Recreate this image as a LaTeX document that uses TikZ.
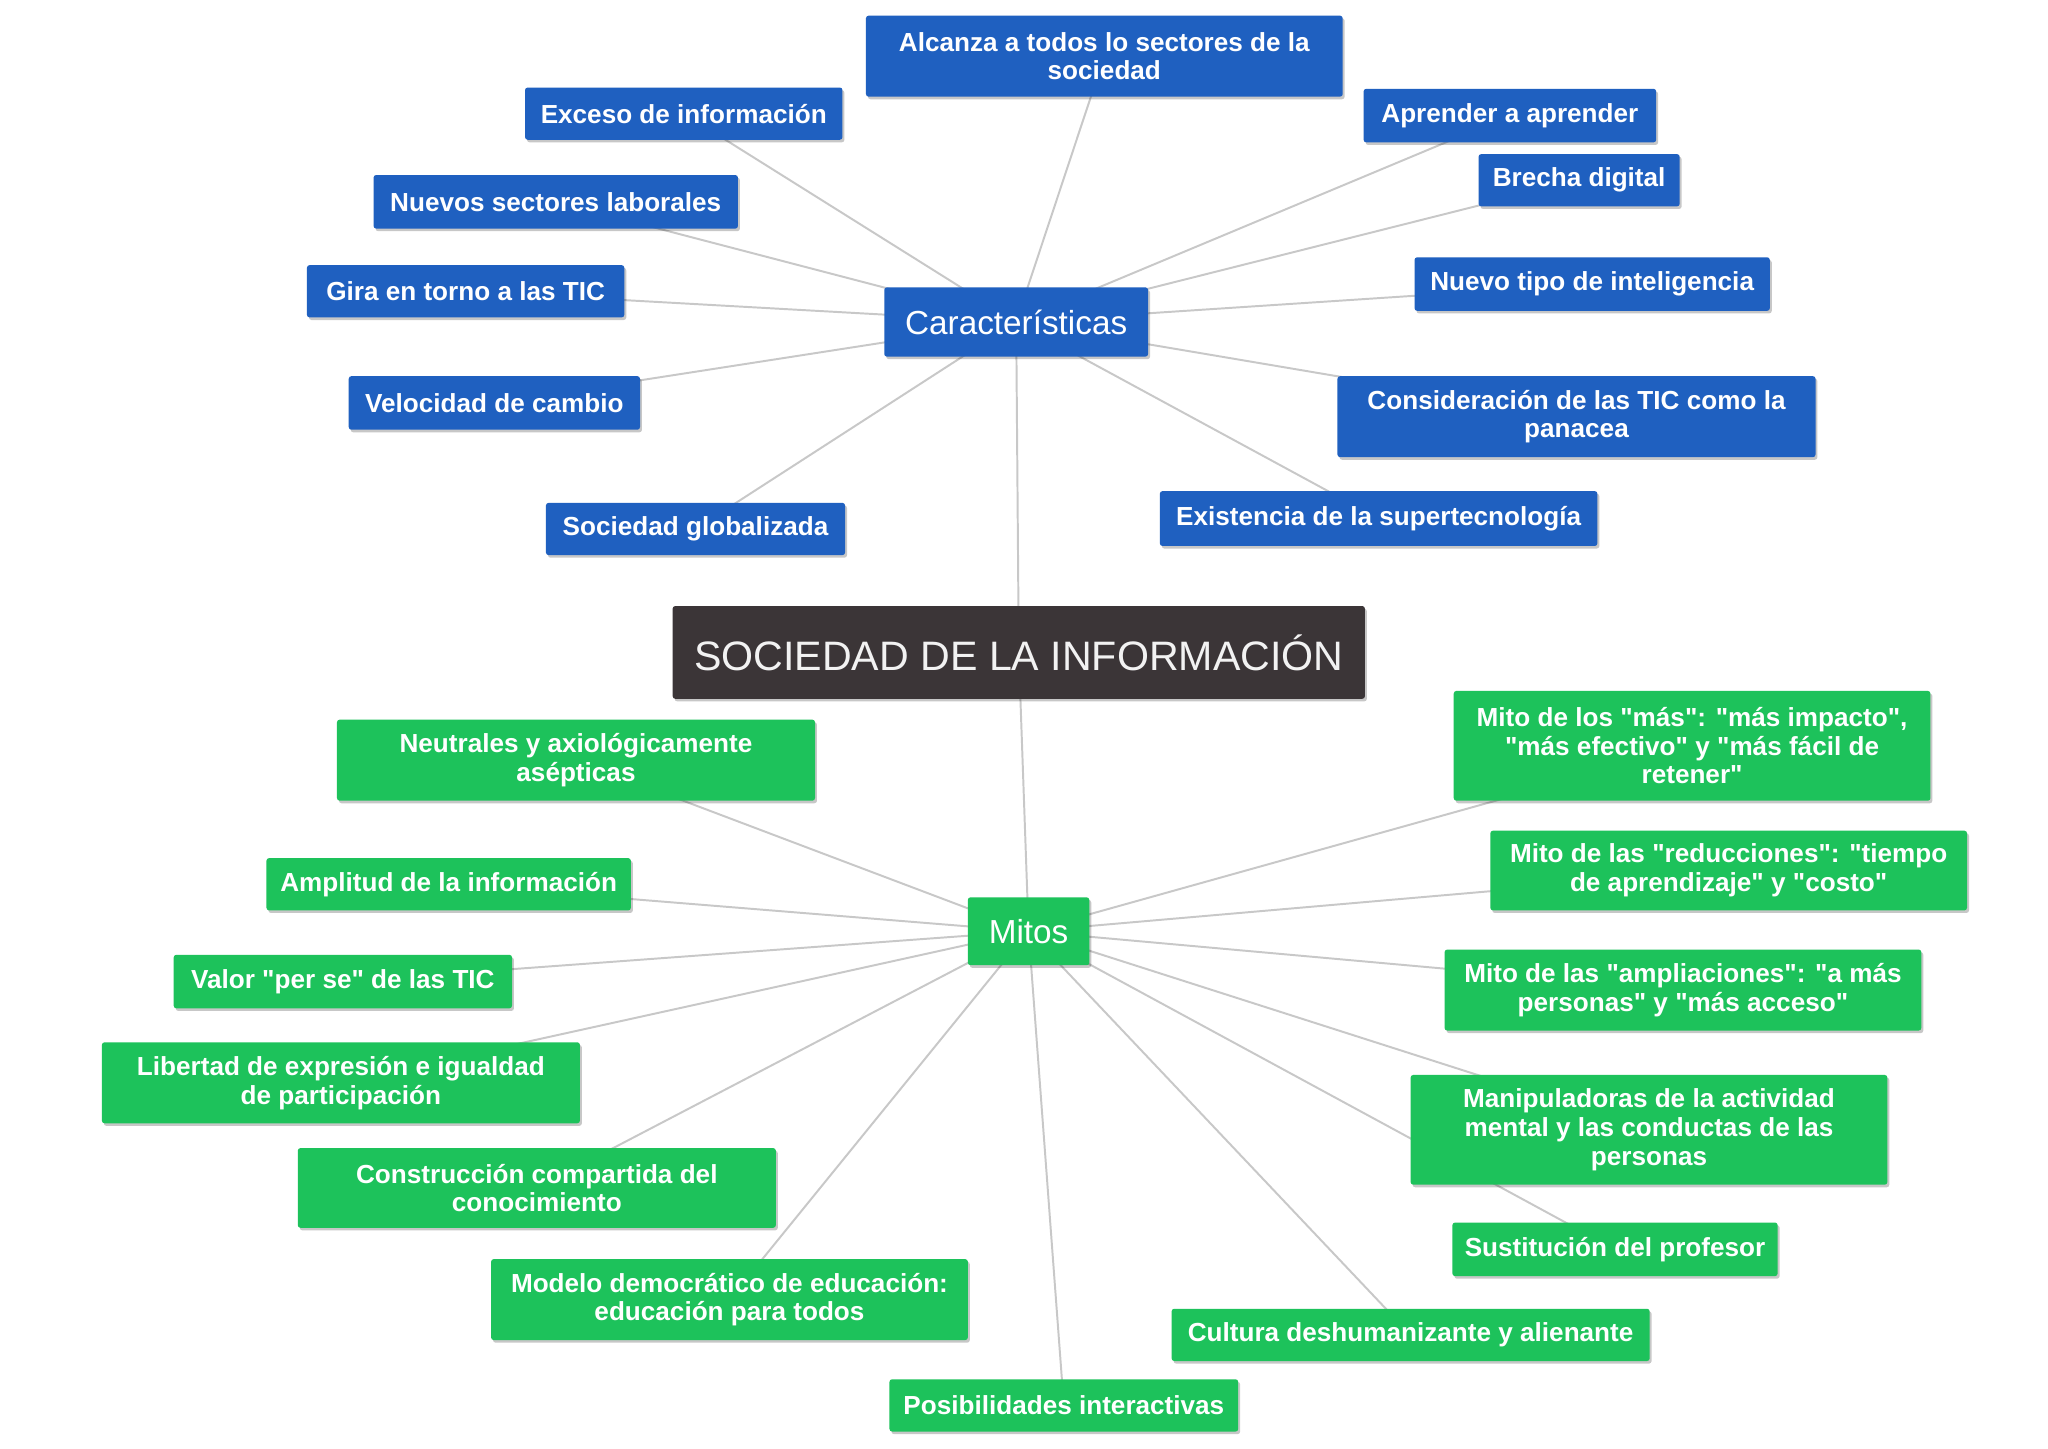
\documentclass[tikz,border=0pt]{standalone}
\usepackage{fontspec}
\newfontfamily\lsans{Liberation Sans}
\usetikzlibrary{shadows,backgrounds}
\definecolor{cblue}{HTML}{1F60C0}
\definecolor{cgreen}{HTML}{1DC25B}
\definecolor{cdark}{HTML}{3B3537}
\definecolor{cline}{HTML}{C8C8C8}
\begin{document}
\begin{tikzpicture}[x=1pt,y=-1pt,
  box/.style={rectangle, rounded corners=2pt, text=white, align=center, inner sep=0pt,
    font=\lsans\fontsize{20}{22}\selectfont\bfseries,
    drop shadow={shadow xshift=1.5pt, shadow yshift=-2pt, opacity=0.22, fill=black}},
  bbox/.style={box, fill=cblue},
  gbox/.style={box, fill=cgreen},
  big/.style={font=\lsans\fontsize{25.5}{28}\selectfont},
  conn/.style={draw=cline, line width=1.5pt}]
\useasboundingbox (0,0) rectangle (1568,1109);
% Caracteristicas
\node[bbox, minimum width=365pt, minimum height=62pt] (alc) at (845.5,43) {Alcanza a todos lo sectores de la\\sociedad};
\node[bbox, minimum width=243pt, minimum height=40pt] (exc) at (523.5,87) {Exceso de información};
\node[bbox, minimum width=224pt, minimum height=41pt] (apr) at (1156,88.5) {Aprender a aprender};
\node[bbox, minimum width=279pt, minimum height=41pt] (nue) at (425.5,154.5) {Nuevos sectores laborales};
\node[bbox, minimum width=154pt, minimum height=40pt] (bre) at (1209,138) {Brecha digital};
\node[bbox, minimum width=243pt, minimum height=40pt] (gir) at (356.5,223) {Gira en torno a las TIC};
\node[bbox, big, minimum width=202pt, minimum height=53pt] (car) at (778,246.5) {Características};
\node[bbox, minimum width=272pt, minimum height=41pt] (int) at (1219,217.5) {Nuevo tipo de inteligencia};
\node[bbox, minimum width=223pt, minimum height=41pt] (vel) at (378.5,308.5) {Velocidad de cambio};
\node[bbox, minimum width=366pt, minimum height=62pt] (con) at (1207,319) {Consideración de las TIC como la\\panacea};
\node[bbox, minimum width=229pt, minimum height=40pt] (glo) at (532.5,405) {Sociedad globalizada};
\node[bbox, minimum width=335pt, minimum height=42pt] (sup) at (1055.5,397) {Existencia de la supertecnología};
% Title
\node[box, fill=cdark, text=white!95!black, font=\lsans\fontsize{31.5}{34}\selectfont, minimum width=530pt, minimum height=71pt] (tit) at (780,499.5) {SOCIEDAD DE LA INFORMACIÓN};
% Mitos
\node[gbox, minimum width=366pt, minimum height=62pt] (neu) at (441,582) {Neutrales y axiológicamente\\asépticas};
\node[gbox, minimum width=365pt, minimum height=84pt] (mas) at (1295.5,571) {Mito de los "más": "más impacto",\\"más efectivo" y "más fácil de\\retener"};
\node[gbox, minimum width=279pt, minimum height=40pt] (amp) at (343.5,677) {Amplitud de la información};
\node[gbox, minimum width=365pt, minimum height=61pt] (red) at (1323.5,666.5) {Mito de las "reducciones": "tiempo\\de aprendizaje" y "costo"};
\node[gbox, big, minimum width=93pt, minimum height=52pt] (mit) at (787.5,713) {Mitos};
\node[gbox, minimum width=259pt, minimum height=41pt] (val) at (262.5,751.5) {Valor "per se" de las TIC};
\node[gbox, minimum width=365pt, minimum height=62pt] (amq) at (1288.5,758) {Mito de las "ampliaciones": "a más\\personas" y "más acceso"};
\node[gbox, minimum width=366pt, minimum height=62pt] (lib) at (261,829) {Libertad de expresión e igualdad\\de participación};
\node[gbox, minimum width=365pt, minimum height=84pt] (man) at (1262.5,865) {Manipuladoras de la actividad\\mental y las conductas de las\\personas};
\node[gbox, minimum width=366pt, minimum height=61pt] (cns) at (411,909.5) {Construcción compartida del\\conocimiento};
\node[gbox, minimum width=249pt, minimum height=41pt] (sus) at (1236.5,956.5) {Sustitución del profesor};
\node[gbox, minimum width=365pt, minimum height=62pt] (mod) at (558.5,995) {Modelo democrático de educación:\\educación para todos};
\node[gbox, minimum width=366pt, minimum height=40pt] (cul) at (1080,1022) {Cultura deshumanizante y alienante};
\node[gbox, minimum width=267pt, minimum height=40pt] (pos) at (814.5,1076) {Posibilidades interactivas};
% connectors
\begin{pgfonlayer}{background}
\fill[white] (0,0) rectangle (1568,1109);
\foreach \n in {alc,exc,apr,nue,bre,gir,int,vel,con,glo,sup,tit}
  \draw[conn] (car.center) -- (\n.center);
\foreach \n in {tit,neu,mas,amp,red,val,amq,lib,man,cns,sus,mod,cul,pos}
  \draw[conn] (mit.center) -- (\n.center);
\end{pgfonlayer}
\end{tikzpicture}
\end{document}
